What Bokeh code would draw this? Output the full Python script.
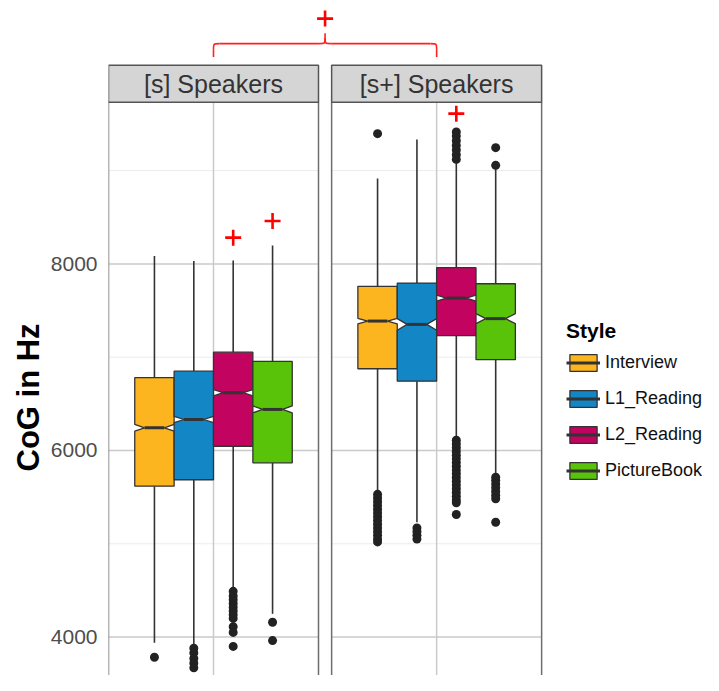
import math
from bokeh.plotting import figure
from bokeh.models import FixedTicker, Legend, LegendItem, Title
from bokeh.core.properties import value
from bokeh.embed import file_html
from bokeh.resources import INLINE

FONT = "Liberation Sans"

# ---------------- data ----------------
PANELS = ["[s] Speakers", "[s+] Speakers"]
STYLES = ["Interview", "L1_Reading", "L2_Reading", "PictureBook"]
COLORS = ["#FDB51F", "#1386C5", "#C2035F", "#59C309"]

# rows = panel, columns = style
WHISKER_LOW = [[3938, 3909, 4517, 4249], [5553, 5231, 6135, 5732]]
Q1 = [[5617, 5686, 6045, 5868], [6876, 6743, 7230, 6973]]
MEDIAN = [[6243, 6332, 6619, 6440], [7387, 7351, 7633, 7413]]
Q3 = [[6780, 6850, 7054, 6954], [7759, 7794, 7959, 7787]]
WHISKER_HIGH = [[8084, 8030, 8037, 8198], [8914, 9332, 9074, 9020]]
NOTCH_HALF = [[36, 34, 34, 37], [30, 62, 32, 54]]

OUTLIERS = [
    [
        [3784],
        [3880, 3830, 3770, 3720, 3670],
        [4490, 4440, 4400, 4360, 4320, 4280, 4240, 4200, 4110, 4050, 3900],
        [4159, 3962],
    ],
    [
        [9396, 5530, 5490, 5450, 5410, 5370, 5330, 5290, 5250, 5210, 5170,
         5130, 5090, 5050, 5020],
        [5170, 5130, 5090, 5050],
        [9413, 9370, 9320, 9270, 9220, 9170, 9120,
         6110, 6070, 6030, 5990, 5950, 5910, 5870, 5830, 5790, 5750, 5710,
         5670, 5630, 5590, 5550, 5510, 5470, 5440, 5314],
        [9246, 9056, 5714, 5680, 5640, 5600, 5560, 5520, 5482, 5231],
    ],
]

# significance markers (red "+") per panel / style, and between panels
SIGNIF = [[None, None, 8281, 8460], [None, None, 9610, None]]
PANEL_SIGNIF = 10629

MAJOR_TICKS = [4000, 6000, 8000]
MINOR_TICKS = [5000, 7000, 9000]

# ---------------- layout ----------------
W, H = 703, 675
LEFT = 108
Y0, Y1 = 3588, 10823
PANEL_TOP = 9732
STRIP_TOP = 10129
PANEL_CENTERS = [1.0, 2.275]
HALF_PANEL = 0.6
DODGE = [-0.3375, -0.1125, 0.1125, 0.3375]
BOX_W = 0.225
PX_PER_X = 175.0
FRAME_W = W - LEFT
X0 = 0.4

BRACKET_Y = 10361
BRACKET_END_Y = 10218
BRACKET_TIP_Y = 10472

p = figure(width=W, height=H,
           x_range=(X0, X0 + FRAME_W / PX_PER_X), y_range=(Y0, Y1),
           output_backend="svg", toolbar_location=None, x_axis_location=None,
           min_border_left=LEFT, min_border_right=0, min_border_top=0,
           min_border_bottom=0)
p.grid.visible = False
p.outline_line_color = None
p.background_fill_color = "white"
p.border_fill_color = "white"

ax = p.yaxis[0]
ax.ticker = FixedTicker(ticks=MAJOR_TICKS, minor_ticks=[])
ax.axis_line_color = None
ax.major_tick_out = 0
ax.major_tick_in = 0
ax.major_tick_line_color = None
ax.minor_tick_line_color = None
ax.major_label_text_font = FONT
ax.major_label_text_font_size = "21px"
ax.major_label_text_color = "#4d4d4d"
ax.major_label_standoff = 11

# y axis title, centred on the panel height (left margin title)
p.add_layout(Title(text="CoG in Hz", align="left", offset=204,
                   text_font=FONT, text_font_size="31px",
                   text_font_style="bold", text_color="#000000",
                   standoff=4), "left")

# grid lines per panel
for c in PANEL_CENTERS:
    l, r = c - HALF_PANEL, c + HALF_PANEL
    p.segment(x0=[l] * len(MINOR_TICKS), x1=[r] * len(MINOR_TICKS),
              y0=MINOR_TICKS, y1=MINOR_TICKS, line_color="#ececec", line_width=1)
    p.segment(x0=[l] * len(MAJOR_TICKS), x1=[r] * len(MAJOR_TICKS),
              y0=MAJOR_TICKS, y1=MAJOR_TICKS, line_color="#cacaca", line_width=1.5)
    p.segment(x0=[c], x1=[c], y0=[Y0 - 500], y1=[PANEL_TOP],
              line_color="#cacaca", line_width=1.5)

box_renderers, med_renderers = [], []
for i, style in enumerate(STYLES):
    xs, ys = [], []
    wx, wy0, wy1 = [], [], []
    mx0, mx1, my = [], [], []
    ox, oy = [], []
    for pi, c in enumerate(PANEL_CENTERS):
        cx = c + DODGE[i]
        l, r = cx - BOX_W / 2, cx + BOX_W / 2
        ind = BOX_W / 4
        q1, md, q3, n = Q1[pi][i], MEDIAN[pi][i], Q3[pi][i], NOTCH_HALF[pi][i]
        xs.append([l, l, l + ind, l, l, r, r, r - ind, r, r])
        ys.append([q1, md - n, md, md + n, q3, q3, md + n, md, md - n, q1])
        wx += [cx, cx]
        wy0 += [WHISKER_LOW[pi][i], q3]
        wy1 += [q1, WHISKER_HIGH[pi][i]]
        mx0.append(l + ind)
        mx1.append(r - ind)
        my.append(md)
        ox += [cx] * len(OUTLIERS[pi][i])
        oy += OUTLIERS[pi][i]
    p.segment(x0=wx, x1=wx, y0=wy0, y1=wy1, line_color="#333333", line_width=1.6)
    br = p.patches(xs=xs, ys=ys, fill_color=COLORS[i], line_color="#333333",
                   line_width=1.3)
    mr = p.segment(x0=mx0, x1=mx1, y0=my, y1=my, line_color="#333333",
                   line_width=3)
    p.scatter(x=ox, y=oy, size=9, fill_color="#222222", line_color=None)
    box_renderers.append(br)
    med_renderers.append(mr)

# significance markers inside panels
sx, sy = [], []
for pi, c in enumerate(PANEL_CENTERS):
    for i in range(len(STYLES)):
        if SIGNIF[pi][i] is not None:
            sx.append(c + DODGE[i])
            sy.append(SIGNIF[pi][i])
p.scatter(x=sx, y=sy, marker="cross", size=16, line_color="#ff0000",
          line_width=2.6)

# panel borders
p.quad(left=[c - HALF_PANEL for c in PANEL_CENTERS],
       right=[c + HALF_PANEL for c in PANEL_CENTERS],
       bottom=[Y0 - 500] * 2, top=[PANEL_TOP] * 2,
       fill_color=None, line_color="#6e6e6e", line_width=1.5)

# strips
p.quad(left=[c - HALF_PANEL for c in PANEL_CENTERS],
       right=[c + HALF_PANEL for c in PANEL_CENTERS],
       bottom=[PANEL_TOP] * 2, top=[STRIP_TOP] * 2,
       fill_color="#d5d5d5", line_color="#555555", line_width=1.5)
p.text(x=PANEL_CENTERS, y=[(PANEL_TOP + STRIP_TOP) / 2] * 2, text=PANELS,
       text_align="center", text_baseline="middle",
       text_font=value(FONT), text_font_size="25px", text_color="#333333")

# bracket between panels
xl, xr = PANEL_CENTERS
xc = (xl + xr) / 2
dx = 0.035
dy = 60
red = "#ff2020"
p.segment(x0=[xl, xr], x1=[xl, xr], y0=[BRACKET_END_Y] * 2,
          y1=[BRACKET_Y - dy] * 2, line_color=red, line_width=1.6)
p.bezier(x0=[xl, xr], y0=[BRACKET_Y - dy] * 2,
         x1=[xl + dx, xr - dx], y1=[BRACKET_Y] * 2,
         cx0=[xl, xr], cy0=[BRACKET_Y] * 2,
         cx1=[xl, xr], cy1=[BRACKET_Y] * 2, line_color=red, line_width=1.6)
p.segment(x0=[xl + dx, xc + dx], x1=[xc - dx, xr - dx],
          y0=[BRACKET_Y] * 2, y1=[BRACKET_Y] * 2, line_color=red, line_width=1.6)
p.bezier(x0=[xc - dx, xc + dx], y0=[BRACKET_Y] * 2,
         x1=[xc, xc], y1=[BRACKET_Y + dy] * 2,
         cx0=[xc, xc], cy0=[BRACKET_Y] * 2,
         cx1=[xc, xc], cy1=[BRACKET_Y] * 2, line_color=red, line_width=1.6)
p.segment(x0=[xc], x1=[xc], y0=[BRACKET_Y + dy], y1=[BRACKET_TIP_Y],
          line_color=red, line_width=1.6)
p.scatter(x=[xc], y=[PANEL_SIGNIF], marker="cross", size=16,
          line_color="#ff0000", line_width=2.6)

# legend
items = [LegendItem(label=s, renderers=[box_renderers[i], med_renderers[i]])
         for i, s in enumerate(STYLES)]
legend = Legend(items=items, title="Style", location=(458, 194),
                title_text_font=FONT, title_text_font_style="bold",
                title_text_font_size="21px", title_text_color="#000000",
                title_standoff=9,
                label_text_font=FONT, label_text_font_size="18px",
                label_text_color="#111111",
                glyph_width=34, glyph_height=21, label_height=21,
                spacing=15, label_standoff=5, padding=0, margin=0,
                border_line_color=None, background_fill_alpha=0)
p.add_layout(legend)

open("out.html", "w").write(file_html(p, INLINE))
